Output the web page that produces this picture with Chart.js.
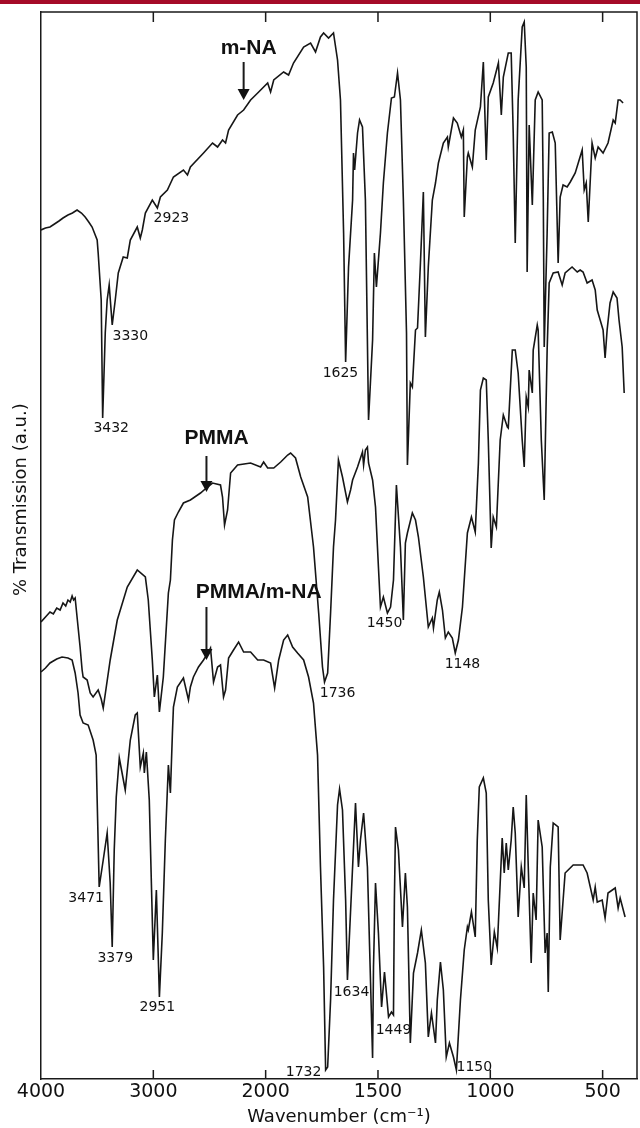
<!DOCTYPE html>
<html>
<head>
<meta charset="utf-8">
<script src="https://cdn.jsdelivr.net/npm/chart.js@4"></script>
<style>
html,body{margin:0;padding:0;background:#fff;}
canvas{display:block;}
</style>
</head>
<body>
<canvas id="c" width="640" height="1128"></canvas>
<script>
// Wavenumber ticks (cm-1)
const tickWn = [4000, 3000, 2000, 1500, 1000, 500];

// Series: [wavenumber (cm-1), transmission (a.u.)]
const mNA = [
[4000,849],[3960,851],[3920,852],[3880,855],[3840,858],[3804,861],[3760,864],[3720,866],[3679,869],[3640,866],[3607,862],[3575,857],[3545,852],[3500,839],[3491,826],[3464,779],[3451,661],
[3428,746],[3411,779],[3393,794],[3366,754],[3339,779],[3312,806],[3268,822],[3232,821],[3205,839],[3143,852],[3116,841],[3098,849],[3071,866],[3009,879],[2964,871],[2937,882],
[2875,889],[2821,902],[2732,909],[2696,904],[2670,912],[2553,926],[2473,936],[2428,932],[2384,939],[2357,936],[2330,949],[2250,964],[2196,969],[2134,979],[2071,986],
[1991,996],[1978,987],[1964,999],[1920,1007],[1898,1004],[1876,1016],[1831,1032],[1800,1036],[1778,1027],[1756,1042],[1742,1046],[1720,1041],[1698,1046],[1680,1019],[1667,979],
[1653,846],[1644,717],[1631,812],[1613,879],[1609,926],[1604,909],[1591,946],[1582,959],[1569,952],[1556,879],[1542,659],[1524,739],[1516,826],[1507,792],[1489,846],[1476,896],
[1458,946],[1440,981],[1427,982],[1413,1006],[1400,979],[1387,879],[1373,746],[1369,614],[1356,696],[1347,692],[1333,749],[1324,751],[1311,816],[1298,887],[1289,742],[1276,812],
[1258,879],[1244,896],[1231,916],[1209,936],[1191,942],[1187,932],[1164,961],[1147,956],[1129,942],[1120,949],[1116,862],[1102,922],[1098,926],[1080,912],[1067,949],[1044,972],
[1031,1017],[1018,919],[1009,982],[987,996],[964,1016],[951,964],[942,1002],[920,1026],[907,1026],[898,946],[889,836],[876,979],[858,1052],[849,1057],[840,1012],[836,807],
[827,954],[813,874],[800,979],[787,987],[769,979],[764,879],[760,732],[747,846],[738,946],[724,947],[711,936],[698,816],[689,882],[676,894],[658,892],[644,897],[622,906],
[591,929],[582,889],[573,896],[564,857],[547,936],[533,921],[520,932],[498,926],[476,936],[453,959],[444,956],[431,979],[422,979],[409,976]
];

const PMMA = [
[4000,457],[3960,462],[3920,467],[3890,465],[3860,471],[3830,469],[3804,476],[3780,473],[3760,479],[3740,477],[3723,483],[3710,479],[3696,481],[3670,452],[3652,432],[3634,409],
[3625,402],[3589,399],[3562,386],[3536,382],[3491,389],[3464,380],[3446,371],[3384,419],[3321,459],[3232,492],[3143,509],[3071,502],[3045,479],[3009,419],[2991,382],[2964,404],
[2946,367],[2911,402],[2866,486],[2848,499],[2830,539],[2812,559],[2777,567],[2732,576],[2670,579],[2580,586],[2518,592],[2473,596],[2402,594],[2384,582],[2366,554],[2339,569],
[2312,606],[2250,614],[2134,616],[2045,612],[2018,617],[1991,611],[1964,611],[1933,617],[1902,624],[1889,626],[1867,621],[1844,602],[1813,582],[1787,532],[1764,466],[1747,412],
[1738,397],[1724,406],[1711,466],[1698,532],[1689,559],[1676,619],[1658,602],[1636,577],[1622,589],[1613,599],[1591,612],[1569,627],[1564,614],[1556,629],[1547,632],[1542,616],
[1524,599],[1511,572],[1498,512],[1489,472],[1476,482],[1458,466],[1444,472],[1431,499],[1418,594],[1400,532],[1387,459],[1378,536],[1369,546],[1347,566],[1333,559],[1320,542],
[1298,502],[1276,452],[1258,461],[1253,451],[1236,479],[1227,487],[1213,469],[1200,441],[1187,447],[1169,441],[1156,426],[1142,439],[1124,472],[1102,546],[1084,562],[1067,547],
[1053,616],[1044,689],[1031,701],[1018,699],[1009,639],[996,531],[987,562],[973,552],[956,639],[942,664],[924,652],[920,651],[902,729],[889,729],[876,706],[858,639],[849,612],
[840,682],[831,672],[827,709],[813,686],[809,729],[791,754],[787,749],[773,639],[760,579],[747,729],[738,796],[720,806],[698,807],[680,794],[667,806],[636,812],[613,807],
[600,809],[587,807],[569,796],[547,799],[533,789],[524,769],[511,759],[498,749],[489,721],[480,749],[467,776],[453,787],[436,781],[427,759],[413,732],[404,686]
];

const blend = [
[4000,407],[3960,411],[3920,416],[3860,420],[3813,422],[3760,421],[3723,419],[3696,406],[3670,386],[3652,364],[3625,356],[3580,354],[3536,339],[3509,324],[3500,279],[3482,192],
[3446,219],[3411,246],[3384,196],[3366,132],[3348,229],[3330,282],[3303,321],[3250,289],[3205,339],[3161,364],[3143,366],[3116,312],[3089,326],[3080,306],[3062,327],[3036,279],
[3000,119],[2973,189],[2946,82],[2920,146],[2893,239],[2866,314],[2848,286],[2830,346],[2821,372],[2786,392],[2732,401],[2687,379],[2670,392],[2643,402],[2598,412],[2553,419],
[2509,427],[2491,431],[2464,397],[2428,412],[2402,414],[2375,382],[2357,389],[2330,421],[2286,429],[2241,437],[2196,427],[2134,427],[2071,419],[2018,419],[1978,416],[1960,391],
[1942,419],[1920,439],[1902,444],[1880,432],[1858,426],[1831,419],[1809,402],[1787,376],[1769,324],[1756,212],[1742,112],[1733,9],[1724,12],[1711,79],[1698,179],[1680,274],
[1671,290],[1658,269],[1644,179],[1636,99],[1613,212],[1600,276],[1587,212],[1578,239],[1564,266],[1547,212],[1533,96],[1524,21],[1520,112],[1511,196],[1498,146],[1484,72],
[1471,107],[1453,62],[1440,67],[1431,64],[1427,179],[1422,252],[1409,229],[1391,152],[1378,206],[1369,172],[1356,36],[1342,106],[1324,126],[1307,149],[1289,116],[1276,42],
[1262,66],[1244,36],[1236,79],[1222,117],[1209,89],[1196,22],[1182,36],[1164,22],[1151,9],[1133,79],[1116,129],[1102,152],[1098,149],[1084,167],[1067,142],[1058,239],
[1049,292],[1031,301],[1018,286],[1009,179],[996,114],[982,147],[969,131],[956,196],[947,241],[938,206],[929,236],[920,209],[907,239],[898,272],[889,246],[876,162],
[862,212],[849,191],[840,284],[831,212],[818,116],[809,186],[796,159],[787,259],[769,232],[756,126],[747,146],[742,87],[733,212],[720,256],[698,252],[689,139],[667,206],
[631,214],[587,214],[569,206],[542,179],[533,192],[524,177],[502,179],[489,161],[476,186],[444,191],[431,171],[422,181],[400,162]
];

// Peak labels and sample names
const peakLabels = ['2923','3330','3432','1625','1736','1450','1148','3471','3379','2951','1732','1634','1449','1150'];
const sampleNames = ['m-NA','PMMA','PMMA/m-NA'];

// Display helpers: scale changes (x2) below 2000 cm-1
function toAxis(wn){ return wn > 2000 ? 2000 + (wn - 2000) / 2 : wn; }
function fromAxis(t){ return t > 2000 ? 2000 + 2 * (t - 2000) : t; }

// annotation placements (data coords)
const labelPos = [
  [2839,861],[3205,743],[3375,651],[1667,706],[1680,386],[1471,456],[1124,415],
  [3598,181],[3339,121],[2964,72],[1831,7],[1618,87],[1431,49],[1071,12]
];
const namePos = [[2151,1031],[2437,641],[2062,487]];
const arrowPos = [[2196,1017,979],[2527,623,587],[2527,472,419]];

const deco = {
  id: 'deco',
  beforeDraw(chart){
    const ctx = chart.ctx;
    ctx.save();
    ctx.fillStyle = '#a50a28';
    ctx.fillRect(0, 0, chart.width, 4);
    ctx.restore();
  },
  afterDraw(chart){
    const {ctx, chartArea: a, scales: {x, y}} = chart;
    ctx.save();
    ctx.strokeStyle = '#1a1a1a';
    ctx.lineWidth = 1.5;
    ctx.beginPath();
    ctx.moveTo(a.left, a.top); ctx.lineTo(a.right, a.top); ctx.lineTo(a.right, a.bottom);
    ctx.stroke();
    x.ticks.forEach(t => {
      const px = x.getPixelForValue(t.value);
      if (px < a.left + 3) return;
      ctx.beginPath();
      ctx.moveTo(px, a.bottom); ctx.lineTo(px, a.bottom - 9);
      ctx.moveTo(px, a.top); ctx.lineTo(px, a.top + 10);
      ctx.stroke();
    });
    ctx.fillStyle = '#111';
    ctx.textAlign = 'center';
    ctx.textBaseline = 'middle';
    ctx.font = '14px "DejaVu Sans"';
    peakLabels.forEach((s, i) => {
      const p = labelPos[i];
      ctx.fillText(s, x.getPixelForValue(toAxis(p[0])), y.getPixelForValue(p[1]));
    });
    ctx.font = 'bold 21px "Liberation Sans", Arial, sans-serif';
    sampleNames.forEach((s, i) => {
      const p = namePos[i];
      ctx.fillText(s, x.getPixelForValue(toAxis(p[0])), y.getPixelForValue(p[1]));
    });
    ctx.lineWidth = 2;
    arrowPos.forEach(p => {
      const px = x.getPixelForValue(toAxis(p[0]));
      const y1 = y.getPixelForValue(p[1]);
      const y2 = y.getPixelForValue(p[2]);
      ctx.beginPath();
      ctx.moveTo(px, y1); ctx.lineTo(px, y2 - 10);
      ctx.stroke();
      ctx.beginPath();
      ctx.moveTo(px - 6, y2 - 11); ctx.lineTo(px + 6, y2 - 11); ctx.lineTo(px, y2);
      ctx.closePath();
      ctx.fill();
    });
    ctx.restore();
  }
};

const mk = (arr) => arr.map(p => ({x: toAxis(p[0]), y: p[1]}));
const lineStyle = {borderColor: '#161616', borderWidth: 1.6, pointRadius: 0, tension: 0, fill: false};

new Chart(document.getElementById('c'), {
  type: 'line',
  data: {
    datasets: [
      Object.assign({label: 'm-NA', data: mk(mNA)}, lineStyle),
      Object.assign({label: 'PMMA', data: mk(PMMA)}, lineStyle),
      Object.assign({label: 'PMMA/m-NA', data: mk(blend)}, lineStyle)
    ]
  },
  options: {
    responsive: false,
    animation: false,
    devicePixelRatio: 1,
    layout: {padding: {top: 12, right: 3, left: 0, bottom: 0}},
    plugins: {legend: {display: false}, tooltip: {enabled: false}},
    scales: {
      x: {
        type: 'linear', reverse: true, min: 347, max: 3000,
        afterBuildTicks: s => { s.ticks = tickWn.map(v => ({value: toAxis(v)})); },
        afterFit: s => { s.height = 49; },
        ticks: {autoSkip: false, maxRotation: 0, padding: 2, color: '#111',
          font: {family: 'DejaVu Sans', size: 19},
          callback: v => String(Math.round(fromAxis(v)))},
        grid: {drawOnChartArea: false, drawTicks: false},
        border: {display: true, color: '#1a1a1a', width: 1.5},
        title: {display: true, text: 'Wavenumber (cm⁻¹)', color: '#111',
          font: {family: 'DejaVu Sans', size: 18}, padding: {top: 0, bottom: 0}}
      },
      y: {
        type: 'linear', min: 0, max: 1067,
        afterFit: s => { s.width = 41; },
        ticks: {display: false},
        grid: {drawOnChartArea: false, drawTicks: false},
        border: {display: true, color: '#1a1a1a', width: 1.5},
        title: {display: true, text: '\u00A0'.repeat(16) + '% Transmission (a.u.)', color: '#111',
          font: {family: 'DejaVu Sans', size: 18}, padding: {top: 11, bottom: 0}}
      }
    }
  },
  plugins: [deco]
});
</script>
</body>
</html>
